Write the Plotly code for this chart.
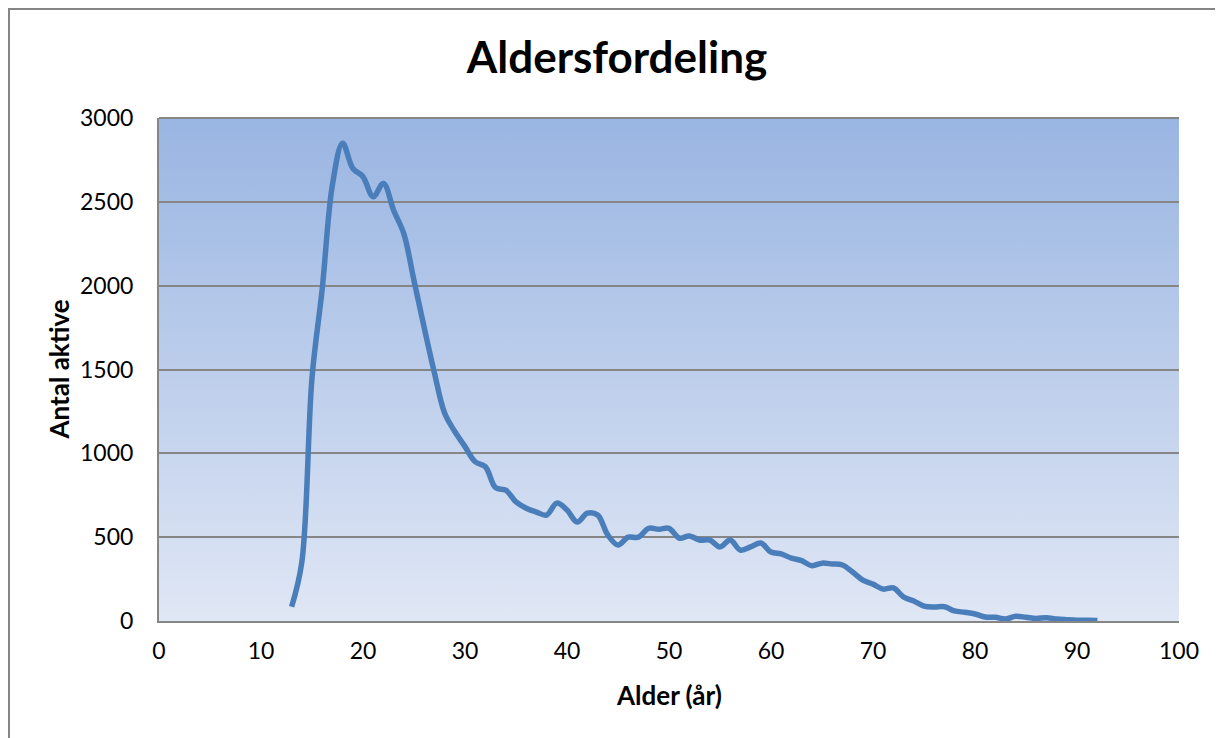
import base64
import plotly.graph_objects as go

ages = list(range(13, 93))
antal = [85, 350, 1450, 1980, 2600, 2850, 2700, 2650, 2530, 2610,
         2450, 2310, 2030, 1750, 1480, 1240, 1130, 1040, 950, 920,
         795, 780, 710, 673, 650, 632, 703, 662, 590, 643,
         632, 513, 453, 500, 500, 553, 547, 553, 495, 507,
         483, 483, 442, 483, 423, 442, 465, 411, 400, 375,
         360, 330, 345, 340, 334, 292, 244, 220, 190, 197,
         143, 119, 89, 83, 85, 60, 52, 42, 24, 22,
         12, 28, 22, 15, 20, 12, 8, 5, 4, 3]

title = "Aldersfordeling"
x_title = "Alder (år)"
y_title = "Antal aktive"

font = "Lato, 'Open Sans', sans-serif"

# page has an 8px body margin; figure coords = screen coords - 8
W, H = 1215, 730
L, T, R, B = 151, 110, 1171, 613  # plot area in figure px
PW, PH = R - L, B - T

svg = ('<svg xmlns="http://www.w3.org/2000/svg" width="100" height="100" preserveAspectRatio="none">'
       '<defs><linearGradient id="g" x1="0" y1="0" x2="0" y2="1">'
       '<stop offset="0" stop-color="#99B5E2"/><stop offset="1" stop-color="#E0E7F5"/>'
       '</linearGradient></defs><rect width="100" height="100" fill="url(#g)"/></svg>')
svg_uri = "data:image/svg+xml;base64," + base64.b64encode(svg.encode()).decode()

fig = go.Figure()
fig.add_trace(go.Scatter(
    x=ages, y=antal, mode="lines",
    line=dict(color="#4A7EBB", width=5.5, shape="spline", smoothing=1.0),
    hoverinfo="x+y", showlegend=False,
))

fig.update_layout(
    width=W, height=H,
    margin=dict(l=L, r=W - R, t=T, b=H - B),
    paper_bgcolor="white",
    plot_bgcolor="rgba(0,0,0,0)",
    font=dict(family=font, color="black", size=23),
    title=dict(text=f"<b>{title}</b>", x=609 / W, xref="container", xanchor="center",
               y=1 - 50 / H, yanchor="middle", yref="container",
               font=dict(size=44, family=font, color="black")),
    images=[dict(source=svg_uri, xref="paper", yref="paper", x=0, y=1,
                 sizex=1, sizey=1, sizing="stretch", layer="below")],
    xaxis=dict(range=[0, 100], dtick=10, showgrid=False, zeroline=False,
               showline=True, linecolor="#868686", linewidth=2,
               ticks="", ticklabelstandoff=8,
               tickfont=dict(size=23, family=font)),
    yaxis=dict(range=[0, 3000], dtick=500, showgrid=True, gridcolor="#868686",
               gridwidth=2, zeroline=False, showline=True, linecolor="#868686",
               linewidth=2, ticks="", ticklabelstandoff=19,
               tickfont=dict(size=23, family=font)),
    annotations=[
        dict(text=f"<b>{x_title}</b>", xref="paper", yref="paper", x=0.5,
             y=(B - 687) / PH, showarrow=False, xanchor="center", yanchor="middle",
             font=dict(size=26, family=font)),
        dict(text=f"<b>{y_title}</b>", xref="paper", yref="paper",
             x=(50 - L) / PW, y=0.5, showarrow=False, xanchor="center",
             yanchor="middle", textangle=-90, font=dict(size=26, family=font)),
    ],
    shapes=[
        dict(type="rect", xref="paper", yref="paper",
             x0=(1 - L) / PW, x1=(1240 - L) / PW,
             y0=(B - 760) / PH, y1=(B - 1) / PH,
             line=dict(color="#868686", width=2), fillcolor="rgba(0,0,0,0)", layer="below"),
        dict(type="line", xref="paper", yref="paper", x0=0, x1=1, y0=1, y1=1,
             line=dict(color="#868686", width=2)),
    ],
)

fig.write_html("out.html")
